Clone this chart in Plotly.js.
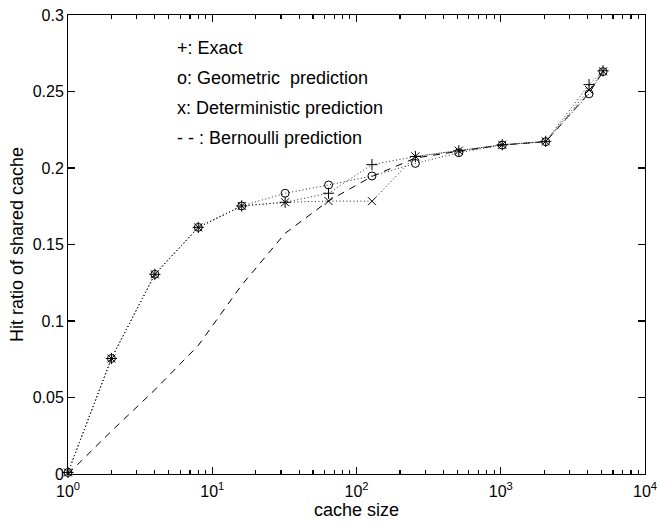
<!DOCTYPE html>
<html>
<head>
<meta charset="utf-8">
<script src="https://cdn.plot.ly/plotly-3.0.1.min.js"></script>
<style>html,body{margin:0;padding:0;background:#fff;}#chart{width:657px;height:526px;}</style>
</head>
<body>
<div id="chart"></div>
<script>
// cache sizes (x values)
const cacheSize = [1, 2, 4, 8, 16, 32, 64, 128, 256, 512, 1024, 2048, 4096, 5120];
// +: Exact
const exact = [0.001, 0.0755, 0.1305, 0.1612, 0.1752, 0.1776, 0.1835, 0.2022, 0.2075, 0.2112, 0.2152, 0.2174, 0.2545, 0.2635];
// o: Geometric prediction
const geometric = [0.001, 0.0755, 0.1305, 0.1612, 0.1752, 0.1835, 0.1889, 0.1948, 0.2030, 0.2100, 0.2150, 0.2172, 0.2485, 0.2630];
// x: Deterministic prediction
const deterministic = [0.001, 0.0755, 0.1305, 0.1612, 0.1752, 0.1776, 0.1784, 0.1783, 0.2076, 0.2113, 0.2152, 0.2174, 0.2510, 0.2632];
// - - : Bernoulli prediction
const bernoulli = [0, 0.028, 0.055, 0.084, 0.1235, 0.1573, 0.1785, 0.1945, 0.2065, 0.2110, 0.2150, 0.2172, 0.2490, 0.2630];

const xTickVals = [1, 10, 100, 1000, 10000];
const xTickText = ['10<sup>0</sup>', '10<sup>1</sup>', '10<sup>2</sup>', '10<sup>3</sup>', '10<sup>4</sup>'];
const xMinorTickVals = [2, 3, 4, 5, 6, 7, 8, 9, 20, 30, 40, 50, 60, 70, 80, 90,
  200, 300, 400, 500, 600, 700, 800, 900, 2000, 3000, 4000, 5000, 6000, 7000, 8000, 9000];
const yTickVals = [0, 0.05, 0.1, 0.15, 0.2, 0.25, 0.3];
const yTickText = ['0', '0.05', '0.1', '0.15', '0.2', '0.25', '0.3'];

const legendLines = ['+: Exact', 'o: Geometric\u00a0\u00a0prediction', 'x: Deterministic prediction', '-\u00a0-\u00a0: Bernoulli prediction'];

const FONT = 'Liberation Sans, Arial, Helvetica, sans-serif';
const XRANGE = [-0.00001, 4.00001];

function dotted(y, symbol) {
  return {
    x: cacheSize, y: y, type: 'scatter', mode: 'lines+markers',
    line: {color: '#222', width: 1, dash: '1px,2.5px'},
    marker: {symbol: symbol, size: 8, color: '#000', line: {color: '#000', width: 1}},
    cliponaxis: false, showlegend: false
  };
}

const traces = [
  // invisible carrier trace for the minor-tick overlay axis
  {x: cacheSize, y: bernoulli, xaxis: 'x2', yaxis: 'y', type: 'scatter', mode: 'lines',
   line: {color: 'rgba(0,0,0,0)', width: 1}, opacity: 0, hoverinfo: 'skip', showlegend: false},
  {x: cacheSize, y: bernoulli, type: 'scatter', mode: 'lines',
   line: {color: '#000', width: 1, dash: '7px,6px'}, showlegend: false},
  dotted(deterministic, 'x-thin-open'),
  dotted(geometric, 'circle-open'),
  dotted(exact, 'cross-thin-open')
];

const legendY = [0.929, 0.863, 0.797, 0.732];
const annotations = legendLines.map((t, i) => ({
  text: t, xref: 'paper', yref: 'paper', x: 0.185, y: legendY[i],
  xanchor: 'left', yanchor: 'middle', showarrow: false,
  font: {family: FONT, size: 18, color: '#000'}
}));

const layout = {
  width: 657, height: 526,
  margin: {l: 68, r: 12, t: 15, b: 52},
  paper_bgcolor: '#fff', plot_bgcolor: '#fff',
  font: {family: FONT, size: 16, color: '#000'},
  showlegend: false,
  xaxis: {
    type: 'log', range: XRANGE,
    tickmode: 'array', tickvals: xTickVals, ticktext: xTickText,
    ticks: 'inside', ticklen: 7, tickcolor: '#000', tickwidth: 1.2,
    showline: true, linecolor: '#000', linewidth: 1, mirror: 'ticks',
    showgrid: false, zeroline: false,
    ticklabelstandoff: 3, ticklabeloverflow: 'allow',
    tickfont: {family: FONT, size: 16, color: '#000'},
    title: {text: 'cache size', font: {family: FONT, size: 18, color: '#000'}, standoff: 2}
  },
  xaxis2: {
    type: 'log', range: XRANGE, overlaying: 'x', anchor: 'y', side: 'bottom',
    tickmode: 'array', tickvals: xMinorTickVals,
    ticks: 'inside', ticklen: 4, tickcolor: '#000', tickwidth: 1.2,
    showticklabels: false, showline: true, linecolor: '#000', linewidth: 1, mirror: 'ticks',
    showgrid: false, zeroline: false
  },
  yaxis: {
    range: [0, 0.3],
    tickmode: 'array', tickvals: yTickVals, ticktext: yTickText,
    ticks: 'inside', ticklen: 7, tickcolor: '#000', tickwidth: 1.2,
    showline: true, linecolor: '#000', linewidth: 1, mirror: 'ticks',
    showgrid: false, zeroline: false,
    tickfont: {family: FONT, size: 16, color: '#000'},
    title: {text: 'Hit ratio of shared cache', font: {family: FONT, size: 18, color: '#000'}, standoff: 4}
  },
  annotations: annotations
};

Plotly.newPlot('chart', traces, layout, {displayModeBar: false, staticPlot: true});
</script>
</body>
</html>
